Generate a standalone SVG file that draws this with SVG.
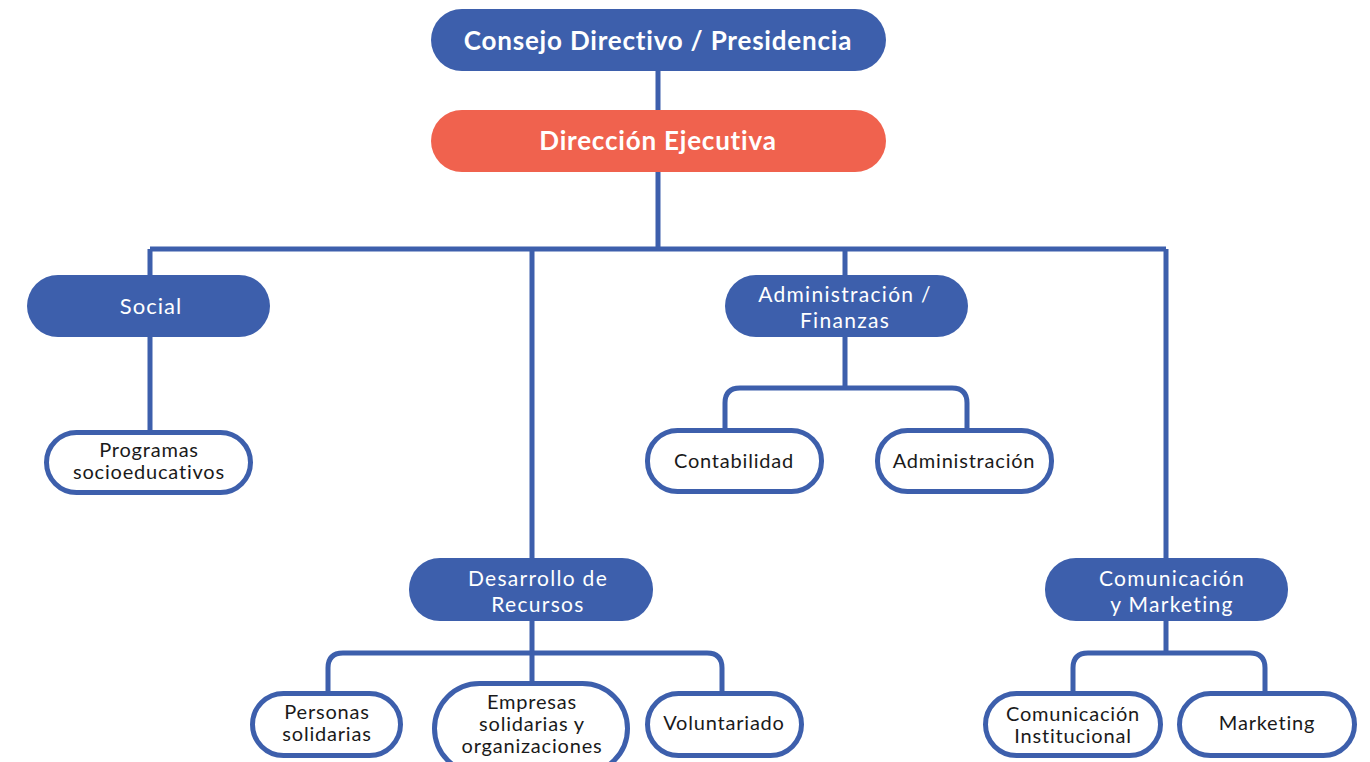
<svg xmlns="http://www.w3.org/2000/svg" width="1370" height="762" viewBox="0 0 1370 762">
<style>
.bg{fill:#ffffff}
.blue{fill:#3d5fac}
.orange{fill:#f0624e}
.wn{fill:#ffffff;stroke:#3d5fac;stroke-width:5}
.c{fill:none;stroke:#3d5fac;stroke-width:5}
text{font-family:"Lato","Liberation Sans",sans-serif;text-anchor:middle}
.tt{fill:#ffffff;font-size:26px;font-weight:bold;letter-spacing:0.8px}
.tw{fill:#ffffff;font-size:22px;letter-spacing:1px}
.tw2{fill:#ffffff;font-size:21px;letter-spacing:1.3px}
.tb{fill:#1a1a1a;font-size:20px;letter-spacing:0.8px}
</style>
<rect class="bg" x="0" y="0" width="1370" height="762"/>
<g id="connectors">
<path class="c" d="M658 71V110M658 172V249M150 249H1166M150 249V275M150 337V430M532 249V559M845 249V275M1166 249V559"/>
<path class="c" d="M845 337V388M725 430V403Q725 388 740 388H952Q967 388 967 403V430"/>
<path class="c" d="M532 621V683M328 692V668Q328 653 343 653H707Q722 653 722 668V692"/>
<path class="c" d="M1166 621V653M1073 692V668Q1073 653 1088 653H1250Q1265 653 1265 668V692"/>
</g>
<g id="n-consejo"><rect class="blue" x="431" y="9" width="455" height="62" rx="31"/><text class="tt" x="658" y="50">Consejo Directivo / Presidencia</text></g>
<g id="n-direccion"><rect class="orange" x="431" y="110" width="455" height="62" rx="31"/><text class="tt" x="658" y="150">Dirección Ejecutiva</text></g>
<g id="n-social"><rect class="blue" x="27" y="275" width="243" height="62" rx="31"/><text class="tw" x="151" y="314">Social</text></g>
<g id="n-programas"><rect class="wn" x="46.5" y="432.5" width="204" height="60" rx="30"/><text class="tb" x="149" y="457">Programas</text><text class="tb" x="149" y="479">socioeducativos</text></g>
<g id="n-admfin"><rect class="blue" x="725" y="275" width="243" height="62" rx="31"/><text class="tw2" x="845" y="302">Administración /</text><text class="tw2" x="845" y="328">Finanzas</text></g>
<g id="n-contab"><rect class="wn" x="647.5" y="430.5" width="174" height="61" rx="30"/><text class="tb" x="734" y="468">Contabilidad</text></g>
<g id="n-admin"><rect class="wn" x="877.5" y="430.5" width="174" height="61" rx="30"/><text class="tb" x="964" y="468">Administración</text></g>
<g id="n-desarrollo"><rect class="blue" x="409" y="558" width="244" height="63" rx="31"/><text class="tw2" x="538" y="586">Desarrollo de</text><text class="tw2" x="538" y="612">Recursos</text></g>
<g id="n-personas"><rect class="wn" x="252.5" y="693.5" width="148" height="62" rx="31"/><text class="tb" x="327" y="719">Personas</text><text class="tb" x="327" y="741">solidarias</text></g>
<g id="n-empresas"><rect class="wn" x="434.5" y="683.5" width="193" height="90" rx="45"/><text class="tb" x="532" y="709">Empresas</text><text class="tb" x="532" y="731">solidarias y</text><text class="tb" x="532" y="753">organizaciones</text></g>
<g id="n-voluntariado"><rect class="wn" x="647.5" y="693.5" width="154" height="62" rx="31"/><text class="tb" x="724" y="730">Voluntariado</text></g>
<g id="n-comunicacion"><rect class="blue" x="1045" y="558" width="243" height="63" rx="31"/><text class="tw2" x="1172" y="586">Comunicación</text><text class="tw2" x="1172" y="612">y Marketing</text></g>
<g id="n-cominst"><rect class="wn" x="985.5" y="693.5" width="175" height="62" rx="31"/><text class="tb" x="1073" y="721">Comunicación</text><text class="tb" x="1073" y="743">Institucional</text></g>
<g id="n-marketing"><rect class="wn" x="1179.5" y="693.5" width="175" height="62" rx="31"/><text class="tb" x="1267" y="730">Marketing</text></g>
</svg>
